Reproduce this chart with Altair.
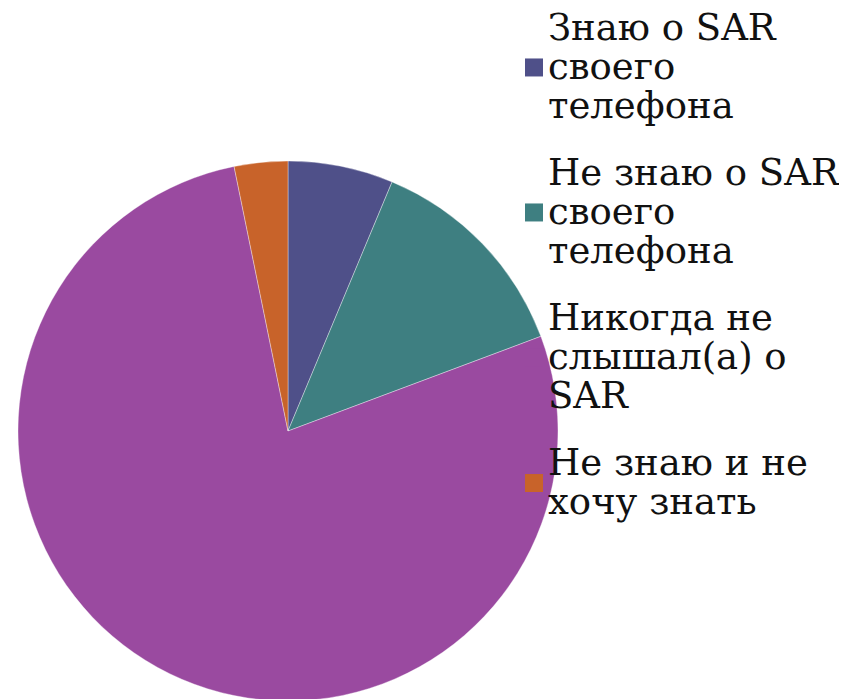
import altair as alt
import pandas as pd

categories = [
    "Знаю о SAR своего телефона",
    "Не знаю о SAR своего телефона",
    "Никогда не слышал(а) о SAR",
    "Не знаю и не хочу знать",
]
# legend label lines (wrapped as in the original)
label_lines = [
    "Знаю о SAR|своего|телефона",
    "Не знаю о SAR|своего|телефона",
    "Никогда не|слышал(а) о|SAR",
    "Не знаю и не|хочу знать",
]
values = [6.3, 13.0, 77.5, 3.2]
colors = ["#4F5089", "#3E7F81", "#9A4AA0", "#C8632A"]

df = pd.DataFrame({"cat": categories, "value": values, "order": list(range(len(categories)))})

label_map = "{" + ", ".join(f"'{c}': '{l}'" for c, l in zip(categories, label_lines)) + "}"

# square legend symbol centred on the middle of a multi-line label
sym_3lines = "M-0.5,3.33H1.5V5.33H-0.5Z"
sym_2lines = "M-0.5,1.17H1.5V3.17H-0.5Z"

legend = alt.Legend(
    title=None,
    orient="none",
    legendX=503,
    legendY=2,
    padding=0,
    symbolType=alt.ExprRef(expr=f"datum.index == 3 ? '{sym_2lines}' : '{sym_3lines}'"),
    symbolSize=324,
    symbolStrokeWidth=0,
    symbolOpacity=1,
    labelFont="DejaVu Serif",
    labelFontSize=37,
    labelColor="#111111",
    labelOffset=0,
    labelLimit=400,
    rowPadding=29,
    labelExpr=f"split({label_map}[datum.label], '|')",
)

chart = (
    alt.Chart(df)
    .mark_arc(radius=270, stroke="#ffffff", strokeWidth=0.6, strokeOpacity=0.6)
    .encode(
        theta=alt.Theta("value:Q", stack=True),
        order=alt.Order("order:Q"),
        color=alt.Color(
            "cat:N",
            sort=categories,
            scale=alt.Scale(domain=categories, range=colors),
            legend=legend,
        ),
    )
    .properties(width=560, height=846, padding=0)
    .configure_view(stroke=None)
)

chart.save("out.html", embed_options={"renderer": "svg", "actions": False})
